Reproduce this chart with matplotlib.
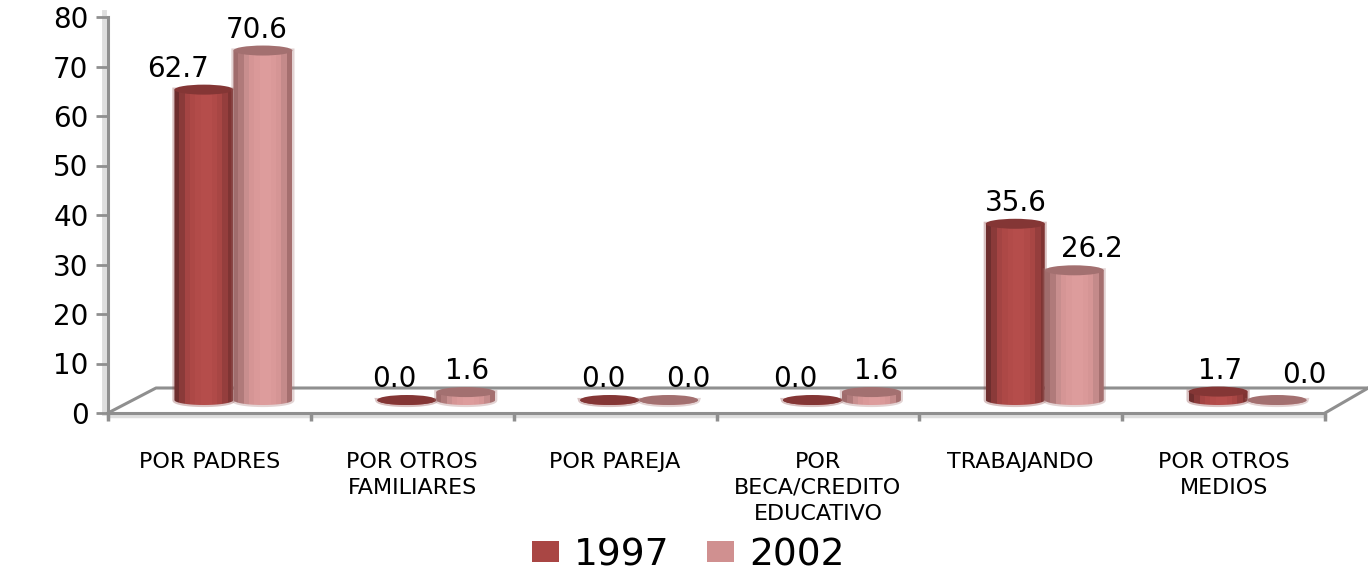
import numpy as np
from matplotlib import pyplot as plt
from matplotlib.colors import to_rgb
from matplotlib.patches import Ellipse, Patch, Polygon

categorias = ['POR PADRES', 'POR OTROS\nFAMILIARES', 'POR PAREJA',
              'POR\nBECA/CREDITO\nEDUCATIVO', 'TRABAJANDO', 'POR OTROS\nMEDIOS']
anos = ['1997', '2002']
v1997 = [62.7, 0.0, 0.0, 0.0, 35.6, 1.7]
v2002 = [70.6, 1.6, 0.0, 1.6, 26.2, 0.0]

# ajuste manual das etiquetas (px)
dx1997 = [-26, -12, -6, -17, 1, 2]
dy1997 = [0, 0, 0, 0, 0, 0]
dx2002 = [-6, 1, 20, 5, 18, 27]
dy2002 = [0, 0, 0, 0, 0, 4]

W, H = 1368, 571
x0_px, x1_px = 108, 1325
y0_px, y80_px = 413, 17
sx = (x1_px - x0_px) / 6      # px por categoria
sy = (y0_px - y80_px) / 80    # px por unidade

plt.rcParams['font.family'] = ['DejaVu Sans']
cinza = '#8f8f8f'
sombra = '#dedede'

fig = plt.figure(figsize=(W / 100, H / 100), dpi=100)
ax = fig.add_axes([x0_px / W, 1 - y0_px / H, (x1_px - x0_px) / W, (y0_px - y80_px) / H])


def px(dx=0, dy=0):
    return dx / sx, dy / sy


# chao em perspectiva
prof_x, prof_y = px(48, 25)
ax.plot([0, prof_x, 6 + prof_x * 0.9], [0, prof_y, prof_y], color=cinza, lw=2.2, zorder=1, clip_on=False)
ax.plot([6, 6 + prof_x * 0.9], [0, prof_y], color=cinza, lw=2.2, zorder=1, clip_on=False)
ax.plot([0, 6], [-0.7, -0.7], color=sombra, lw=2.5, zorder=0, clip_on=False)
ax.plot([-0.018, -0.018], [0, 81], color=sombra, lw=3.5, zorder=0, clip_on=False)

rampa_1997 = ['#6e2e2e', '#8a3a39', '#a44443', '#ad4846', '#b24b49', '#b54d4b', '#b54d4b',
              '#b04a48', '#a84644', '#953e3d', '#7f3433']
rampa_2002 = ['#a06c6c', '#b07a7a', '#c88e8e', '#d59595', '#da9999', '#dd9c9c', '#dd9c9c',
              '#da9999', '#d59595', '#c48a8a', '#a56f6f']
topo_1997 = '#843635'
topo_2002 = '#a37070'

larg = 59 / sx
meia_elipse = 5 / sy
base = 13 / sy      # centro da base do cilindro
centro = 0.5 + 24 / sx


def cilindro(xc, val, rampa, topo, z):
    esq, dir_ = xc - larg / 2, xc + larg / 2
    t = np.linspace(np.pi, 2 * np.pi, 30)
    xs = xc + larg / 2 * np.cos(t)
    ys = base + meia_elipse * np.sin(t)
    pts = np.r_[np.c_[xs, ys], [[dir_, base + val], [esq, base + val]]]
    halo = Polygon(pts, closed=True, facecolor='none', edgecolor=topo, alpha=0.3, lw=3, zorder=z)
    ax.add_patch(halo)
    img = np.array([[to_rgb(c) for c in rampa]])
    im = ax.imshow(img, extent=(esq, dir_, base - meia_elipse, base + val + meia_elipse),
                   aspect='auto', interpolation='nearest', zorder=z + 0.1)
    contorno = Polygon(pts, closed=True, transform=ax.transData)
    im.set_clip_path(contorno)
    ax.add_patch(Ellipse((xc, base + val), larg, 2 * meia_elipse, facecolor=topo, edgecolor='none', zorder=z + 0.2))


for i in range(len(categorias)):
    xc = i + centro
    cilindro(xc - larg / 2, v1997[i], rampa_1997, topo_1997, 3)
    cilindro(xc + larg / 2, v2002[i], rampa_2002, topo_2002, 4)
    ax.text(xc - larg / 2 + dx1997[i] / sx, base + v1997[i] + meia_elipse + 8 / sy + dy1997[i] / sy,
            f'{v1997[i]:.1f}', ha='center', va='baseline', fontsize=20, color='black', zorder=6)
    ax.text(xc + larg / 2 + dx2002[i] / sx, base + v2002[i] + meia_elipse + 8 / sy + dy2002[i] / sy,
            f'{v2002[i]:.1f}', ha='center', va='baseline', fontsize=20, color='black', zorder=6)

ax.set_xlim(0, 6)
ax.set_ylim(0, 80)
ax.patch.set_visible(False)
for lado in ['top', 'right']:
    ax.spines[lado].set_visible(False)
for lado in ['left', 'bottom']:
    ax.spines[lado].set_color(cinza)
    ax.spines[lado].set_linewidth(2.2)
    ax.spines[lado].set_zorder(2)

ax.set_yticks(np.arange(0, 81, 10))
ax.tick_params(axis='y', labelsize=20, length=9, width=2, color=cinza, pad=5, labelcolor='black')
ax.set_xticks(np.arange(0, 7))
ax.set_xticklabels([])
ax.tick_params(axis='x', which='major', length=6, width=2.5, color=cinza)
ax.set_xticks(np.arange(6) + 0.5, minor=True)
ax.set_xticklabels(categorias, minor=True, fontsize=16, linespacing=1.38)
ax.tick_params(axis='x', which='minor', length=0, pad=28, labelcolor='black')

handles = [Patch(facecolor='#a94644', label=anos[0]), Patch(facecolor='#d09090', label=anos[1])]
fig.legend(handles=handles, ncols=2, loc='center', bbox_to_anchor=(688 / W, 1 - 555 / H), frameon=False,
           fontsize=27, handlelength=0.72, handleheight=0.5, handletextpad=0.4, columnspacing=1.0, borderpad=0)

plt.savefig('out.png', dpi=100)
